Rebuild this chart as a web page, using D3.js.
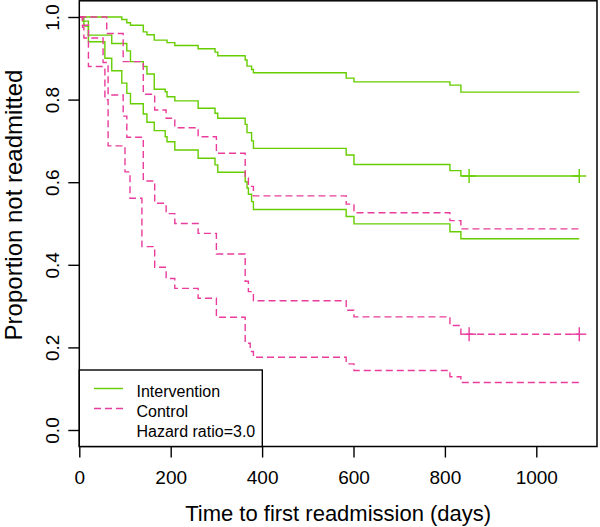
<!DOCTYPE html>
<html>
<head>
<meta charset="utf-8">
<script src="https://cdn.jsdelivr.net/npm/d3@7"></script>
<style>
  html, body { margin: 0; padding: 0; background: #fff; }
  svg { display: block; }
  text { font-family: "Liberation Sans", Arial, Helvetica, sans-serif; fill: #000; }
</style>
</head>
<body>
<svg id="chart" width="600" height="527"></svg>
<script>
// ---- Data ----
const xTicks = [0, 200, 400, 600, 800, 1000];
const yTicks = [0.0, 0.2, 0.4, 0.6, 0.8, 1.0];
const yTickLabels = ["0.0", "0.2", "0.4", "0.6", "0.8", "1.0"];
const endDay = 1094;
const censorDays = [853, 1094];

// Intervention (green): [day, survival]
const interventionUpper = [[0,1],[93,0.994],[104,0.986],[112,0.980],[140,0.964],[148,0.957],[164,0.944],[192,0.938],[209,0.931],[260,0.923],[297,0.915],[303,0.906],[363,0.896],[367,0.881],[377,0.873],[381,0.865],[584,0.852],[601,0.843],[811,0.835],[835,0.818]];
const interventionMain = [[0,1],[10,0.978],[20,0.956],[71,0.936],[104,0.918],[112,0.892],[140,0.880],[148,0.862],[164,0.825],[188,0.819],[192,0.807],[209,0.797],[260,0.779],[297,0.767],[303,0.755],[363,0.740],[367,0.720],[377,0.700],[381,0.682],[584,0.666],[601,0.643],[811,0.628],[835,0.615]];
const interventionLower = [[0,1],[7,0.990],[20,0.940],[56,0.900],[71,0.870],[93,0.840],[104,0.815],[112,0.790],[140,0.765],[148,0.745],[164,0.725],[188,0.710],[192,0.698],[209,0.678],[260,0.658],[297,0.642],[303,0.624],[363,0.601],[367,0.586],[370,0.571],[377,0.553],[381,0.534],[584,0.517],[601,0.499],[811,0.480],[835,0.463]];

// Control (pink): [day, survival]
const controlUpper = [[0,1],[60,0.960],[96,0.892],[140,0.813],[165,0.775],[190,0.755],[209,0.732],[260,0.710],[300,0.670],[363,0.610],[370,0.590],[381,0.567],[584,0.547],[601,0.526],[811,0.507],[835,0.487]];
const controlMain = [[0,1],[7,0.975],[10,0.949],[52,0.890],[63,0.811],[96,0.760],[104,0.709],[140,0.603],[165,0.549],[190,0.524],[209,0.500],[260,0.476],[300,0.426],[363,0.360],[370,0.335],[381,0.313],[584,0.290],[601,0.274],[811,0.253],[835,0.232]];
const controlLower = [[0,1],[7,0.980],[20,0.880],[56,0.800],[63,0.688],[100,0.625],[111,0.561],[137,0.444],[165,0.394],[190,0.367],[209,0.343],[260,0.319],[300,0.273],[363,0.210],[374,0.190],[381,0.176],[584,0.160],[601,0.144],[811,0.129],[835,0.115]];

const legendLabels = ["Intervention", "Control", "Hazard ratio=3.0"];
const xTitle = "Time to first readmission (days)";
const yTitle = "Proportion not readmitted";

// ---- Styles ----
const GREEN = "#66CD00";
const PINK = "#E93C9C";

const svg = d3.select("#chart");

const x = d3.scaleLinear().domain([0, 1000]).range([79.3, 536.3]);
const y = d3.scaleLinear().domain([0, 1]).range([430, 17]);
const frame = { left: 79.3, right: 597, top: 0.8, bottom: 446.5 };

const line = d3.line().x(d => x(d[0])).y(d => y(d[1])).curve(d3.curveStepAfter);
function withEnd(arr) { return arr.concat([[endDay, arr[arr.length - 1][1]]]); }

const g = svg.append("g");

function drawCurve(data, color, dashed) {
  g.append("path")
    .datum(withEnd(data))
    .attr("d", line)
    .attr("fill", "none")
    .attr("stroke", color)
    .attr("stroke-width", 1.4)
    .attr("stroke-dasharray", dashed ? "7,4" : null);
}
drawCurve(interventionUpper, GREEN, false);
drawCurve(interventionMain, GREEN, false);
drawCurve(interventionLower, GREEN, false);
drawCurve(controlUpper, PINK, true);
drawCurve(controlMain, PINK, true);
drawCurve(controlLower, PINK, true);

// censor marks
function stepValue(arr, day) {
  let v = arr[0][1];
  for (const p of arr) if (p[0] <= day) v = p[1];
  return v;
}
function drawCensor(arr, color) {
  censorDays.forEach(d => {
    const cx = x(d), cy = y(stepValue(arr, d));
    g.append("line").attr("x1", cx - 7).attr("x2", cx + 7).attr("y1", cy).attr("y2", cy)
      .attr("stroke", color).attr("stroke-width", 1.4);
    g.append("line").attr("x1", cx).attr("x2", cx).attr("y1", cy - 7).attr("y2", cy + 7)
      .attr("stroke", color).attr("stroke-width", 1.4);
  });
}
drawCensor(interventionMain, GREEN);
drawCensor(controlMain, PINK);

// frame
svg.append("rect")
  .attr("x", frame.left).attr("y", frame.top)
  .attr("width", frame.right - frame.left).attr("height", frame.bottom - frame.top)
  .attr("fill", "none").attr("stroke", "#000").attr("stroke-width", 1.5);

// x axis
const xAxis = d3.axisBottom(x).tickValues(xTicks).tickSize(11).tickPadding(13).tickFormat(d3.format("d"));
const xa = svg.append("g").attr("transform", `translate(0,${frame.bottom})`).call(xAxis);
xa.select(".domain").remove();
xa.selectAll("line").attr("stroke", "#000").attr("stroke-width", 1.4);
xa.selectAll("text").attr("font-size", 19).attr("font-family", "Liberation Sans, Arial, sans-serif").attr("fill", "#000");

// y axis
const yAxis = d3.axisLeft(y).tickValues(yTicks).tickSize(11).tickFormat((d, i) => yTickLabels[i]);
const ya = svg.append("g").attr("transform", `translate(${frame.left},0)`).call(yAxis);
ya.select(".domain").remove();
ya.selectAll("line").attr("stroke", "#000").attr("stroke-width", 1.4);
ya.selectAll("text")
  .attr("font-size", 19).attr("font-family", "Liberation Sans, Arial, sans-serif").attr("fill", "#000")
  .attr("text-anchor", "middle").attr("x", 0).attr("dy", 0)
  .attr("transform", "translate(-20,0) rotate(-90)");

// titles
svg.append("text").attr("x", (frame.left + frame.right) / 2).attr("y", 521)
  .attr("text-anchor", "middle").attr("font-size", 22).text(xTitle);
svg.append("text").attr("transform", `translate(22,205) rotate(-90)`)
  .attr("text-anchor", "middle").attr("font-size", 24).text(yTitle);

// legend
const lg = svg.append("g");
lg.append("rect").attr("x", frame.left).attr("y", 370).attr("width", 262.3 - frame.left).attr("height", frame.bottom - 370)
  .attr("fill", "#fff").attr("stroke", "#000").attr("stroke-width", 1.4);
const rows = [388.5, 408.5, 428.5];
lg.append("line").attr("x1", 94).attr("x2", 123).attr("y1", rows[0]).attr("y2", rows[0]).attr("stroke", GREEN).attr("stroke-width", 1.4);
lg.append("line").attr("x1", 94).attr("x2", 123).attr("y1", rows[1]).attr("y2", rows[1]).attr("stroke", PINK).attr("stroke-width", 1.4).attr("stroke-dasharray", "7,4");
legendLabels.forEach((t, i) => {
  lg.append("text").attr("x", 136.5).attr("y", rows[i] + 8.5).attr("font-size", 16).text(t);
});
</script>
</body>
</html>
